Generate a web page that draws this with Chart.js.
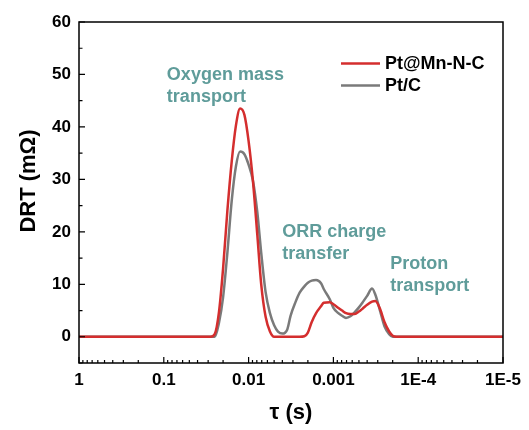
<!DOCTYPE html>
<html>
<head>
<meta charset="utf-8">
<script src="https://cdn.jsdelivr.net/npm/chart.js@4.4.0/dist/chart.umd.min.js"></script>
<style>
  html, body { margin: 0; padding: 0; background: #fff; }
  #wrap { width: 529px; height: 430px; position: relative; }
</style>
</head>
<body>
<div id="wrap"><canvas id="chart" width="529" height="430"></canvas></div>
<script>
// relaxation time tau (s)
const tau = [1, 0.1, 0.0398, 0.0316, 0.0282, 0.0251, 0.0224, 0.02, 0.0178, 0.0158, 0.0141, 0.0126,
  0.0112, 0.01, 0.0089, 0.0079, 0.0071, 0.0063, 0.0056, 0.005, 0.0045, 0.004, 0.0035, 0.0032,
  0.0028, 0.0025, 0.0022, 0.002, 0.0018, 0.0016, 0.0014, 0.0013, 0.0011, 0.001, 0.00089,
  0.00079, 0.00071, 0.00063, 0.00056, 0.0005, 0.00045, 0.0004, 0.00035, 0.00032, 0.00028,
  0.00025, 0.00022, 0.0002, 0.00018, 0.00016, 0.0001, 0.00001];

const drtPtMnNC = [0, 0, 0, 0, 0, 0.5, 4.6, 13, 24, 33.5, 40.3, 43.5,
  42.3, 37.3, 29.8, 19.5, 10, 3.8, 1, 0, 0, 0, 0, 0,
  0, 0, 0.1, 0.8, 2.8, 4.5, 5.8, 6.5, 6.6, 6.2, 5.6,
  5, 4.5, 4.35, 4.35, 4.8, 5.4, 6.1, 6.7, 6.8, 5.2,
  2.8, 1, 0.2, 0, 0, 0, 0];

const drtPtC = [0, 0, 0, 0, 0, 0, 2.6, 7.5, 16, 26, 32.5, 35.3,
  34.8, 32.8, 29.8, 23.8, 16, 8.5, 4.5, 2.2, 1, 0.6, 1.4, 4,
  6.6, 8.4, 9.6, 10.3, 10.7, 10.8, 10.2, 9.1, 7.1, 5.5, 4.6,
  4, 3.6, 3.9, 4.7, 5.6, 6.6, 7.8, 9.2, 8, 4.8,
  2, 0.5, 0, 0, 0, 0, 0];

const seriesNames = ['Pt@Mn-N-C', 'Pt/C'];
const seriesColors = ['#d42e2e', '#7a7a7a'];

const xTicks = [1, 0.1, 0.01, 0.001, 0.0001, 0.00001];
const xTickLabels = ['1', '0.1', '0.01', '0.001', '1E-4', '1E-5'];
const yTicks = [0, 10, 20, 30, 40, 50, 60];

// annotation text: lines, anchored at (tau, value) for first line
const notes = [
  { lines: ['Oxygen mass', 'transport'], tau: 0.092, value: 49.9 },
  { lines: ['ORR charge', 'transfer'], tau: 0.004, value: 19.9 },
  { lines: ['Proton', 'transport'], tau: 0.000214, value: 13.8 }
];

const FONT = '"Liberation Sans", Arial, sans-serif';

const makePoints = (vals) => tau.map((t, i) => ({ x: t, y: vals[i] }));

const decorPlugin = {
  id: 'decor',
  afterDraw(chart) {
    const ctx = chart.ctx;
    const a = chart.chartArea;
    const xs = chart.scales.x, ys = chart.scales.y;
    ctx.save();
    ctx.strokeStyle = '#000';
    ctx.lineWidth = 1.5;
    ctx.strokeRect(a.left, a.top, a.right - a.left, a.bottom - a.top);

    // inward ticks
    ctx.lineWidth = 1.2;
    ctx.beginPath();
    for (let v = -5; v <= 60; v += 5) {
      const y = ys.getPixelForValue(v);
      if (y > a.bottom || y < a.top) continue;
      const len = v % 10 === 0 ? 6 : 3.5;
      ctx.moveTo(a.left, y); ctx.lineTo(a.left + len, y);
    }
    for (let e = 0; e >= -5; e--) {
      const base = Math.pow(10, e);
      const px = xs.getPixelForValue(base);
      ctx.moveTo(px, a.bottom); ctx.lineTo(px, a.bottom - 6);
      if (e > -5) {
        for (let k = 2; k <= 9; k++) {
          const mx = xs.getPixelForValue(base / 10 * k);
          ctx.moveTo(mx, a.bottom); ctx.lineTo(mx, a.bottom - 3);
        }
      }
    }
    ctx.stroke();

    // y axis title
    ctx.save();
    ctx.translate(29, 181);
    ctx.rotate(-Math.PI / 2);
    ctx.font = 'bold 22px ' + FONT;
    ctx.fillStyle = '#000';
    ctx.textAlign = 'center';
    ctx.textBaseline = 'middle';
    ctx.fillText('DRT (mΩ)', 0, 0);
    ctx.restore();

    // legend
    ctx.font = 'bold 18px ' + FONT;
    ctx.textBaseline = 'middle';
    ctx.textAlign = 'left';
    seriesNames.forEach((name, i) => {
      const y = 63.5 + i * 22;
      ctx.strokeStyle = seriesColors[i];
      ctx.lineWidth = 2.5;
      ctx.beginPath(); ctx.moveTo(341, y); ctx.lineTo(380, y); ctx.stroke();
      ctx.fillStyle = '#000';
      ctx.fillText(name, 385, y + 1);
    });

    // annotations
    ctx.font = 'bold 18px ' + FONT;
    ctx.fillStyle = '#5f9c9a';
    notes.forEach(n => {
      const x = xs.getPixelForValue(n.tau);
      const y = ys.getPixelForValue(n.value);
      n.lines.forEach((line, j) => ctx.fillText(line, x, y + j * 22));
    });
    ctx.restore();
  }
};

new Chart(document.getElementById('chart').getContext('2d'), {
  type: 'scatter',
  data: {
    datasets: seriesNames.map((name, i) => ({
      label: name,
      data: makePoints(i === 0 ? drtPtMnNC : drtPtC),
      showLine: true,
      borderColor: seriesColors[i],
      borderWidth: 2.5,
      pointRadius: 0,
      cubicInterpolationMode: 'monotone',
      fill: false
    }))
  },
  options: {
    responsive: false,
    animation: false,
    layout: { padding: { top: 22, right: 26, left: 0, bottom: 0 } },
    plugins: { legend: { display: false }, tooltip: { enabled: false } },
    scales: {
      x: {
        type: 'logarithmic',
        reverse: true,
        min: 0.00001,
        max: 1,
        afterBuildTicks: s => { s.ticks = xTicks.map(v => ({ value: v })); },
        afterFit: s => { s.height = 67; },
        grid: { display: false, drawTicks: false },
        border: { display: false },
        ticks: {
          autoSkip: false,
          maxRotation: 0,
          padding: 7,
          color: '#000',
          font: { family: FONT, size: 17, weight: 'bold' },
          callback: (v) => { const i = xTicks.indexOf(v); return i >= 0 ? xTickLabels[i] : ''; }
        },
        title: {
          display: true,
          text: 'τ (s)',
          color: '#000',
          font: { family: FONT, size: 22, weight: 'bold' },
          padding: { top: 6 }
        }
      },
      y: {
        min: -5,
        max: 60,
        afterBuildTicks: s => { s.ticks = yTicks.map(v => ({ value: v })); },
        afterFit: s => { s.width = 79; },
        grid: { display: false, drawTicks: false },
        border: { display: false },
        ticks: {
          padding: 8,
          color: '#000',
          font: { family: FONT, size: 17, weight: 'bold' }
        }
      }
    }
  },
  plugins: [decorPlugin]
});
</script>
</body>
</html>
